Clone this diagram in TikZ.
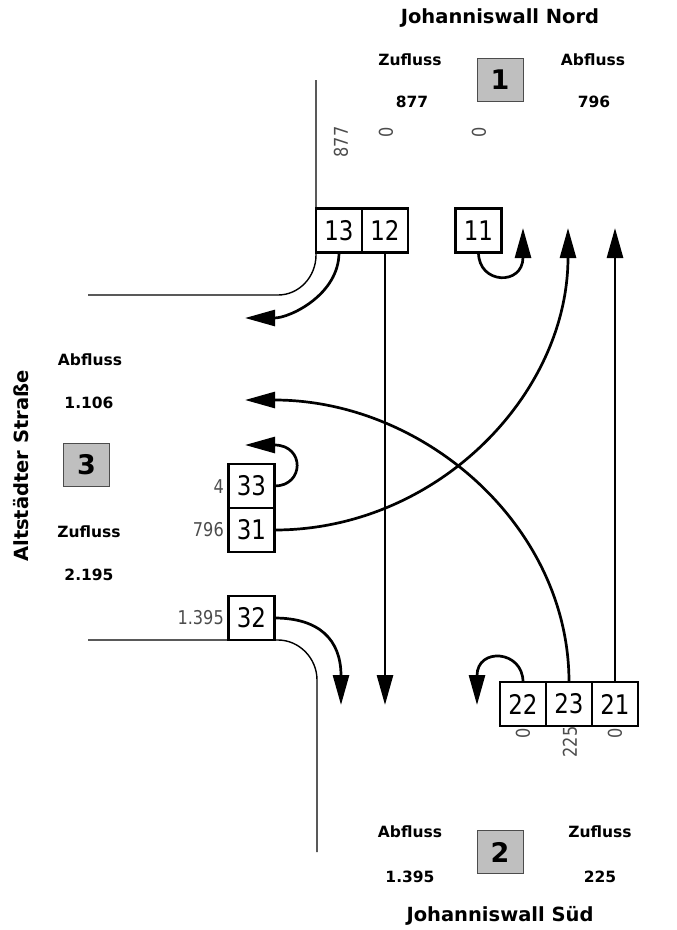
\documentclass[tikz,border=0pt]{standalone}
\usepackage{fontspec}
\setmainfont{DejaVu Sans}
\newfontfamily\schmal{DejaVu Sans}[FakeStretch=0.85]
\usetikzlibrary{arrows.meta}

\begin{document}
\begin{tikzpicture}[x=1pt,y=-1pt,
   spur/.style={draw, line width=2.3pt, minimum width=46pt, minimum height=44pt,
      inner sep=0pt, outer sep=0pt, font=\schmal\fontsize{27}{27}\selectfont},
   zahl/.style={text=black!70, inner sep=0pt, font=\schmal\fontsize{19}{19}\selectfont},
   titel/.style={font=\bfseries\fontsize{19.5}{19.5}\selectfont},
   wert/.style={font=\bfseries\fontsize{15.5}{15.5}\selectfont},
   arm/.style={draw=black!70, fill=black!25, line width=0.8pt, minimum width=46pt,
      minimum height=43pt, inner sep=0pt, font=\bfseries\fontsize{27}{27}\selectfont},
   pfeil/.style={line width=2.7pt, -{Triangle[length=30pt,width=16pt]}},
   rand/.style={line width=1.4pt}]

   \useasboundingbox (0,0) rectangle (677,930);

   % Zufahrt 1 (Nord)
   \node[titel] (nord) at (500,18) {Johanniswall Nord};
   \node[wert] (zu1) at (410,60) {Zufluss};
   \node[wert] (zu1w) at (412,102) {877};
   \node[arm] (arm1) at (500,80) {1};
   \node[wert] (ab1) at (593,60) {Abfluss};
   \node[wert] (ab1w) at (594,102) {796};

   % Zufahrt 2 (Sued)
   \node[wert] (ab2) at (410,832) {Abfluss};
   \node[wert] (ab2w) at (410,877) {1.395};
   \node[arm] (arm2) at (500,852) {2};
   \node[wert] (zu2) at (600,832) {Zufluss};
   \node[wert] (zu2w) at (600,877) {225};
   \node[titel] (sued) at (500,916) {Johanniswall Süd};

   % Zufahrt 3 (West)
   \node[titel,rotate=90] (west) at (21,466) {Altstädter Straße};
   \node[wert] (ab3) at (90,360) {Abfluss};
   \node[wert] (ab3w) at (89,403) {1.106};
   \node[arm] (arm3) at (86.5,464.5) {3};
   \node[wert] (zu3) at (89,532) {Zufluss};
   \node[wert] (zu3w) at (89,575) {2.195};

   % Fahrbahnraender
   \draw[rand] (316,80) -- (316,255) .. controls (316,277) and (299,295) .. (278,295) -- (88,295);
   \draw[rand] (88,640) -- (278,640) .. controls (299,640) and (317,658) .. (317,680) -- (317,852);

   % Fahrstreifen
   \node[spur] (s13) at (339,230.5) {13};
   \node[spur] (s12) at (385,230.5) {12};
   \node[spur] (s11) at (478.5,230.5) {11};
   \node[spur] (s33) at (251.5,486) {33};
   \node[spur] (s31) at (251.5,530) {31};
   \node[spur] (s32) at (251.5,618) {32};
   \node[spur] (s22) at (523,704) {22};
   \node[spur] (s23) at (569,704) {23};
   \node[spur] (s21) at (615,704) {21};

   % Belastungen je Strom
   \node[zahl,rotate=90] (z13) at (341,142) {877};
   \node[zahl,rotate=90] (z12) at (386,132) {0};
   \node[zahl,rotate=90] (z11) at (479,132) {0};
   \node[zahl,anchor=east] (z33) at (224,487) {4};
   \node[zahl,anchor=east] (z31) at (224,530) {796};
   \node[zahl,anchor=east] (z32) at (224,618) {1.395};
   \node[zahl,rotate=90] (z22) at (523,733) {0};
   \node[zahl,rotate=90] (z23) at (570,742) {225};
   \node[zahl,rotate=90] (z21) at (615,733) {0};

   % Pfeilspitzen
   \coordinate (ziel11) at (523,228);
   \coordinate (ziel31) at (568,228);
   \coordinate (ziel21) at (615,228);
   \coordinate (ziel13) at (245,318);
   \coordinate (ziel23) at (245,400);
   \coordinate (ziel33) at (245,445);
   \coordinate (ziel32) at (341,705);
   \coordinate (ziel12) at (385,705);
   \coordinate (ziel22) at (477,705);

   \draw[pfeil] (s12.south) -- (ziel12);
   \draw[pfeil] (s21.north) -- (ziel21);
   \draw[pfeil] (s13.south) .. controls +(0,42) and +(45,0) .. (ziel13);
   \draw[pfeil] (s11.south) .. controls +(0,32) and +(0,58) .. (ziel11);
   \draw[pfeil] (s31.east) .. controls +(162,0) and +(0,167) .. (ziel31);
   \draw[pfeil] (s23.north) .. controls +(0,-156) and +(179,0) .. (ziel23);
   \draw[pfeil] (s33.east) .. controls +(30,0) and +(60,0) .. (ziel33);
   \draw[pfeil] (s22.north) .. controls +(0,-32) and +(0,-58) .. (ziel22);
   \draw[pfeil] (s32.east) .. controls +(45,0) and +(0,-65) .. (ziel32);
\end{tikzpicture}
\end{document}
